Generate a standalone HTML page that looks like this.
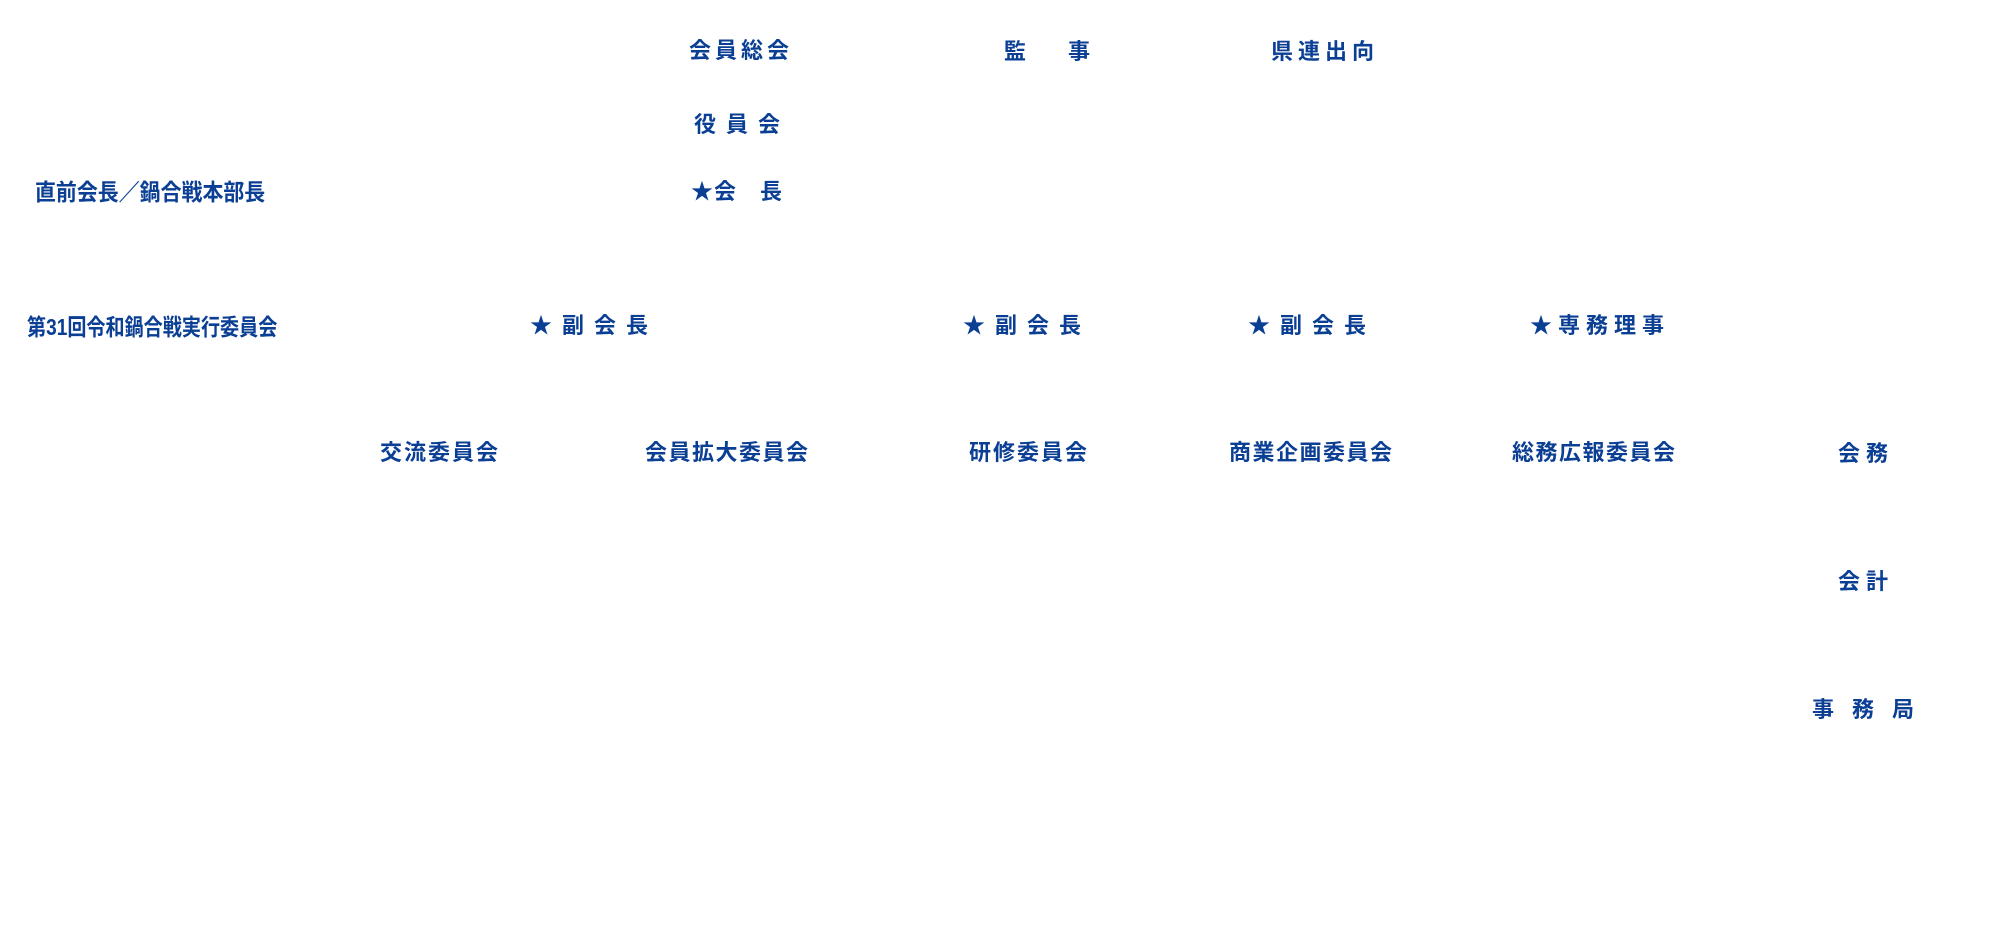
<!DOCTYPE html>
<html><head><meta charset="utf-8"><style>
html,body{margin:0;padding:0;background:#fff;}
body{width:2006px;height:936px;position:relative;overflow:hidden;}
.t{position:absolute;white-space:nowrap;font-family:"Liberation Sans","Noto Sans CJK JP",sans-serif;font-weight:bold;color:#0b3f94;font-size:22px;line-height:26px;}
.c{transform-origin:0 50%;}
</style></head><body>
<div class="t" style="left:689px;top:38px;letter-spacing:4px">会員総会</div>
<div class="t" style="left:1004px;top:39px;letter-spacing:10px">監　事</div>
<div class="t" style="left:1271px;top:39px;letter-spacing:5px">県連出向</div>
<div class="t" style="left:694px;top:112px;letter-spacing:10px">役員会</div>
<div class="t" style="left:691px;top:179px;letter-spacing:1px">★会　長</div>
<div class="t c" style="left:35px;top:179px;font-size:23px;transform:scaleX(0.91)">直前会長／鍋合戦本部長</div>
<div class="t c" style="left:27px;top:314px;font-size:23px;transform:scaleX(0.83)">第31回令和鍋合戦実行委員会</div>
<div class="t" style="left:530px;top:313px;letter-spacing:10px">★副会長</div>
<div class="t" style="left:963px;top:313px;letter-spacing:10px">★副会長</div>
<div class="t" style="left:1248px;top:313px;letter-spacing:10px">★副会長</div>
<div class="t" style="left:1530px;top:313px;letter-spacing:6px">★専務理事</div>
<div class="t" style="left:380px;top:440px;letter-spacing:2px">交流委員会</div>
<div class="t" style="left:645px;top:440px;letter-spacing:1.5px">会員拡大委員会</div>
<div class="t" style="left:969px;top:440px;letter-spacing:2px">研修委員会</div>
<div class="t" style="left:1229px;top:440px;letter-spacing:1.5px">商業企画委員会</div>
<div class="t" style="left:1512px;top:440px;letter-spacing:1.5px">総務広報委員会</div>
<div class="t" style="left:1838px;top:441px;letter-spacing:6px">会務</div>
<div class="t" style="left:1838px;top:569px;letter-spacing:6px">会計</div>
<div class="t" style="left:1812px;top:697px;letter-spacing:18px">事務局</div>
</body></html>
